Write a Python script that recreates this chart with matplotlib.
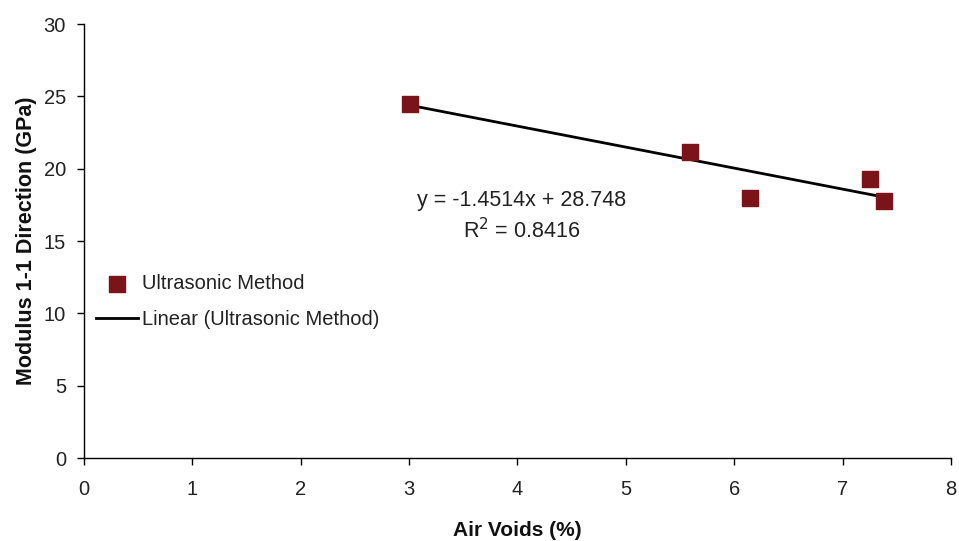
import numpy as np
import matplotlib
matplotlib.use("Agg")
import matplotlib.pyplot as plt

plt.rcParams['font.family'] = ['Liberation Sans', 'DejaVu Sans']

# Measured samples
air_voids = [3.01, 5.59, 6.15, 7.25, 7.38]
modulus = [24.5, 21.15, 17.97, 19.28, 17.76]

# Trend line coefficients
slope = -1.4514
intercept = 28.748
r_squared = 0.8416

x_ticks = [0, 1, 2, 3, 4, 5, 6, 7, 8]
y_ticks = [0, 5, 10, 15, 20, 25, 30]

fig = plt.figure(figsize=(9.59, 5.41), dpi=100)
ax = fig.add_axes([0.0876, 0.1534, 0.904, 0.8022])

marker_color = '#7B1418'
ax.scatter(air_voids, modulus, marker='s', s=125, color=marker_color,
           zorder=3, label='Ultrasonic Method')

xfit = np.array([min(air_voids), max(air_voids)])
ax.plot(xfit, slope * xfit + intercept, color='black', lw=2.0, zorder=2,
        label='Linear (Ultrasonic Method)')

ax.text(4.04, 17.8, f'y = {slope}x + {intercept}', fontsize=15.5,
        ha='center', va='center', color='#222222')
ax.text(4.04, 15.75, f'R$^2$ = {r_squared}', fontsize=15.5,
        ha='center', va='center', color='#222222')

ax.set_xlim(0, 8)
ax.set_ylim(0, 30)
ax.set_xticks(x_ticks)
ax.set_yticks(y_ticks)
ax.tick_params(labelsize=14.5, direction='out', length=5, width=1,
               labelcolor='#222222')
ax.tick_params(axis='x', pad=11)
ax.tick_params(axis='y', pad=8)
for s in ['top', 'right']:
    ax.spines[s].set_visible(False)
for s in ['left', 'bottom']:
    ax.spines[s].set_linewidth(1.0)

ax.set_xlabel('Air Voids (%)', fontsize=15, fontweight='bold', labelpad=16,
              color='#111111')
ax.set_ylabel('Modulus 1-1 Direction (GPa)', fontsize=15.5, fontweight='bold',
              labelpad=5, color='#111111')

leg = ax.legend(loc='upper left', bbox_to_anchor=(0.005, 0.443), frameon=False,
                fontsize=14.5, handlelength=2.05, handletextpad=0.2,
                labelspacing=0.85, borderaxespad=0)
for t in leg.get_texts():
    t.set_color('#222222')

fig.savefig('out.png', dpi=100)
